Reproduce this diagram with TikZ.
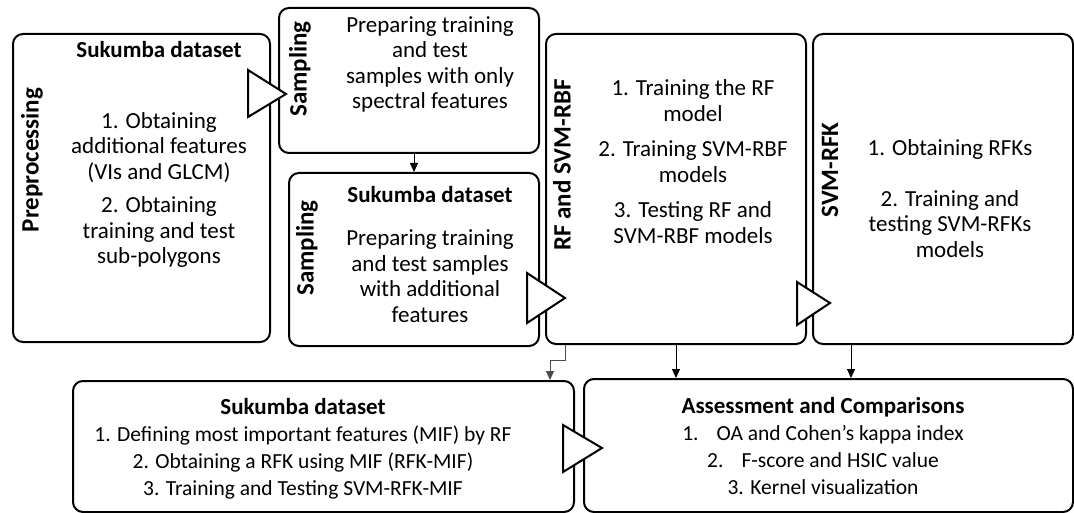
\documentclass[tikz,border=0pt]{standalone}
\usepackage{fontspec}
\setmainfont{Carlito}
\usepackage{tikz}
\usetikzlibrary{arrows.meta}

\tikzset{
  box/.style={draw, line width=2pt, rounded corners=10pt, anchor=north west, inner sep=0pt},
  bodytext/.style={align=center, inner sep=0.75pt, font=\fontsize{23}{25.5}\selectfont},
  headtext/.style={inner sep=0.75pt, font=\fontsize{23}{25.5}\selectfont\bfseries},
  sidelabel/.style={rotate=90, inner sep=0.75pt, font=\fontsize{25}{28}\selectfont\bfseries},
  hollowtip/.style={draw, fill=white, line width=2pt, line join=miter},
  thinarrow/.style={line width=1pt, -{Triangle[length=9pt,width=8pt]}},
}

\begin{document}
\begin{tikzpicture}[x=1pt,y=-1pt]
        \useasboundingbox (0,0) rectangle (1074,513);

        %Shape: Rounded Rect [id:pre]
        \node[box, minimum width=257pt, minimum height=308pt] (pre) at (12,33) {};
        %Shape: Rounded Rect [id:samp1]
        \node[box, minimum width=260pt, minimum height=145pt] (samp1) at (278,7) {};
        %Shape: Rounded Rect [id:samp2]
        \node[box, minimum width=250pt, minimum height=173pt] (samp2) at (288,172) {};
        %Shape: Rounded Rect [id:rfsvm]
        \node[box, minimum width=260pt, minimum height=310pt] (rfsvm) at (545,33) {};
        %Shape: Rounded Rect [id:svmrfk]
        \node[box, minimum width=260pt, minimum height=310pt] (svmrfk) at (812,33) {};
        %Shape: Rounded Rect [id:mif]
        \node[box, minimum width=501pt, minimum height=131pt] (mif) at (72,380) {};
        %Shape: Rounded Rect [id:assess]
        \node[box, minimum width=489pt, minimum height=133pt] (assess) at (583,378) {};

        %Shape: Triangle [id:t1]
        \draw[hollowtip] (248,70) -- (286,94) -- (248,117) -- cycle;
        %Shape: Triangle [id:t2]
        \draw[hollowtip] (527,273) -- (565,298) -- (527,323) -- cycle;
        %Shape: Triangle [id:t3]
        \draw[hollowtip] (797,282) -- (830,303) -- (797,325) -- cycle;
        %Shape: Triangle [id:t4]
        \draw[hollowtip] (563,425) -- (602,448) -- (563,472) -- cycle;

        %Straight Lines
        \draw[thinarrow] (samp1.south -| samp2.north) -- (samp2.north);
        \draw[thinarrow] (rfsvm.south) -- (rfsvm.south |- assess.north);
        \draw[thinarrow] ([xshift=-92pt]svmrfk.south) -- ([xshift=-92pt]svmrfk.south |- assess.north);
        %Elbow line
        \draw[thinarrow, draw=black!70] ([xshift=20pt]rfsvm.south west) -- ++(0,15) -| ([xshift=-25pt]mif.north east);

        % Text Node
        \node[sidelabel] (prelbl) at (32,160) {Preprocessing};
        % Text Node
        \node[headtext] (prehead) at (159,50) {Sukumba dataset};
        % Text Node
        \node[bodytext] (prebody) at (159,190) {1. Obtaining\\additional features\\(VIs and GLCM)\\[8pt]2. Obtaining\\training and test\\sub-polygons};

        % Text Node
        \node[sidelabel] (samp1lbl) at (300,69) {Sampling};
        % Text Node
        \node[bodytext] (samp1body) at (430,64.5) {Preparing training\\and test\\samples with only\\spectral features};

        % Text Node
        \node[sidelabel] (samp2lbl) at (307,248) {Sampling};
        % Text Node
        \node[headtext] (samp2head) at (430,195) {Sukumba dataset};
        % Text Node
        \node[bodytext] (samp2body) at (430,276) {Preparing training\\and test samples\\with additional\\features};

        % Text Node
        \node[sidelabel] (rfsvmlbl) at (562,165) {RF and SVM-RBF};
        % Text Node
        \node[bodytext] (rfsvmbody) at (693,161.5) {1. Training the RF\\model\\[10pt]2. Training SVM-RBF\\models\\[10pt]3. Testing RF and\\SVM-RBF models};

        % Text Node
        \node[sidelabel] (svmrfklbl) at (830,170) {SVM-RFK};
        % Text Node
        \node[bodytext] (svmrfkbody) at (950,198.5) {1. Obtaining RFKs\\[25pt]2. Training and\\testing SVM-RFKs\\models};

        % Text Node
        \node[bodytext, font=\fontsize{21.5}{27}\selectfont] (mifbody) at (303,449) {{\fontsize{23}{27}\selectfont\bfseries Sukumba dataset}\\1. Defining most important features (MIF) by RF\\2. Obtaining a RFK using MIF (RFK-MIF)\\3. Training and Testing SVM-RFK-MIF};

        % Text Node
        \node[bodytext, font=\fontsize{21.5}{27}\selectfont] (assessbody) at (823,446) {{\fontsize{23}{27}\selectfont\bfseries Assessment and Comparisons}\\1.\hspace{18pt}OA and Cohen’s kappa index\\2.\hspace{18pt}F-score and HSIC value\\3. Kernel visualization};

\end{tikzpicture}
\end{document}
